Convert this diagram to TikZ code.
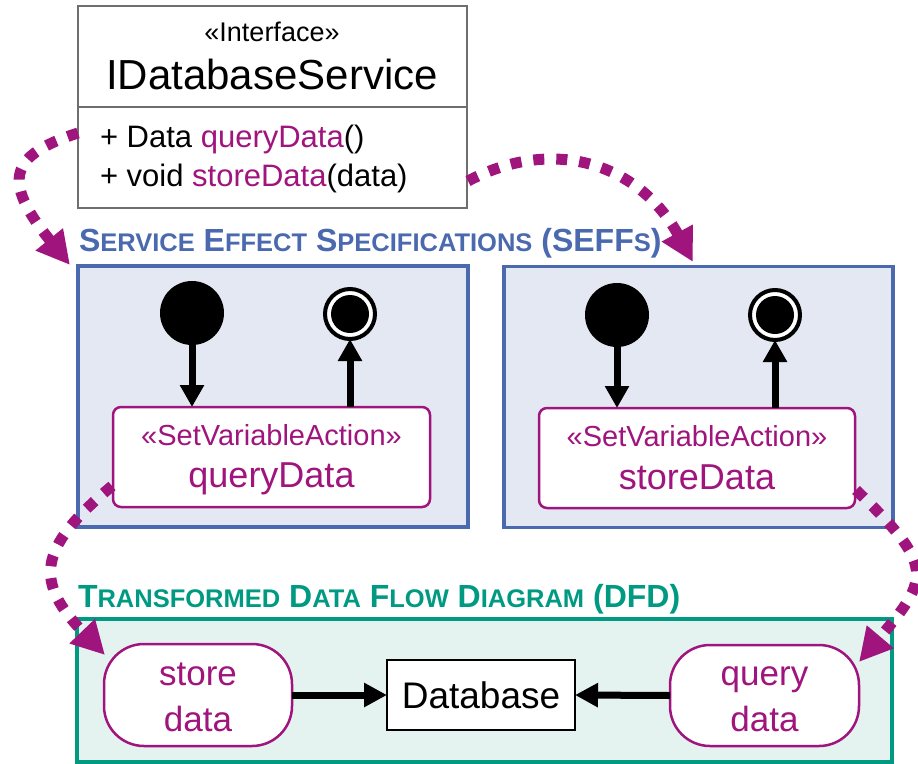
\documentclass[tikz,border=0pt]{standalone}
\usepackage{fontspec}
\setmainfont{Liberation Sans}
\usetikzlibrary{arrows.meta}

\definecolor{purp}{HTML}{A0147D}
\definecolor{seffblue}{HTML}{4A69AE}
\definecolor{sefffill}{HTML}{E4E8F3}
\definecolor{dfdteal}{HTML}{009A82}
\definecolor{dfdfill}{HTML}{E4F2F0}
\definecolor{clsgray}{HTML}{6E6E6E}

% font helpers (sizes in pt, one pt per pixel of the drawing)
\newcommand\fs[1]{\fontsize{#1}{#1}\selectfont}
% hand-made small caps for the section titles
\newcommand\seffsc[1]{{\fs{25.5}#1}}
\newcommand\dfdsc[1]{{\fs{25.5}#1}}

\begin{document}
\begin{tikzpicture}[x=1pt,y=-1pt,
  every node/.style={inner sep=0pt,outer sep=0pt},
  txt/.style={anchor=base},
  clsbox/.style={draw=clsgray,line width=2.5pt,fill=white},
  seffbox/.style={draw=seffblue,line width=3.5pt,fill=sefffill},
  actbox/.style={draw=purp,line width=2.5pt,fill=white,rounded corners=8pt},
  initnode/.style={circle,fill=black,minimum size=64pt},
  finring/.style={circle,draw=black,line width=4pt,fill=white,minimum size=50pt},
  fincore/.style={circle,fill=black,minimum size=38pt},
  ctrl/.style={line width=7pt,-{Triangle[length=22pt,width=23pt]}},
  dfdbox/.style={draw=dfdteal,line width=3.5pt,fill=dfdfill},
  procbox/.style={draw=purp,line width=2.5pt,fill=white,rounded corners=40pt},
  storebox/.style={draw=black,line width=2.5pt,fill=white},
  dflow/.style={line width=7pt,-{Triangle[length=23pt,width=23pt]}},
  trace/.style={draw=purp,line width=11pt,dash pattern=on 11pt off 12pt,
    -{Triangle[length=33pt,width=33pt]},fill=none},
]
\useasboundingbox (0,0) rectangle (918,763);
\clip (0,0) rectangle (918,763);

% ---------------- interface class ----------------
\node[clsbox,minimum width=389pt,minimum height=202pt] (cls) at (272.5,107) {};
\draw[clsgray,line width=2.5pt] (cls.west |- 0,107) -- (cls.east |- 0,107);
\node[txt,font=\fs{27}] (stereo) at (272,41) {«Interface»};
\node[txt,font=\fs{42}] (iname) at (272,89) {IDatabaseService};
\node[anchor=base west,font=\fs{31}] (m1) at (100,147) {+ Data \textcolor{purp}{queryData}()};
\node[anchor=base west,font=\fs{31}] (m2) at (100,186) {+ void \textcolor{purp}{storeData}(data)};
\coordinate (clsL) at (78,133);
\coordinate (clsR) at (468,181);

% ---------------- SEFFs ----------------
\node[anchor=base west,text=seffblue,font=\fs{32}\bfseries] (sefftitle) at (79,251)
  {S\seffsc{ERVICE} E\seffsc{FFECT} S\seffsc{PECIFICATIONS} (SEFF\seffsc{S})};

\node[seffbox,minimum width=390pt,minimum height=261pt] (seffL) at (273,396.5) {};
\node[seffbox,minimum width=389pt,minimum height=261pt] (seffR) at (698.5,397) {};

% queryData SEFF
\node[actbox,minimum width=317pt,minimum height=100pt] (actL) at (271.5,457) {};
\node[txt,text=purp,font=\fs{29}] (actLs) at (271.5,445) {«SetVariableAction»};
\node[txt,text=purp,font=\fs{36}] (actLn) at (271.5,487) {queryData};
\node[initnode] (initL) at (192,313) {};
\node[finring] (finL) at (350,314) {};
\node[fincore] (finLc) at (350,314) {};
\draw[ctrl] (initL.south) -- (initL |- actL.north);
\draw[ctrl] (finL |- actL.north) -- (finL.south);

% storeData SEFF
\node[actbox,minimum width=316pt,minimum height=100pt] (actR) at (697,458) {};
\node[txt,text=purp,font=\fs{29}] (actRs) at (697,446) {«SetVariableAction»};
\node[txt,text=purp,font=\fs{36}] (actRn) at (697,489) {storeData};
\node[initnode] (initR) at (617,315) {};
\node[finring] (finR) at (775,315) {};
\node[fincore] (finRc) at (775,315) {};
\draw[ctrl] (initR.south) -- (initR |- actR.north);
\draw[ctrl] (finR |- actR.north) -- (finR.south);

% ---------------- transformed DFD ----------------
\node[anchor=base west,text=dfdteal,font=\fs{32}\bfseries] (dfdtitle) at (78,607)
  {T\dfdsc{RANSFORMED} D\dfdsc{ATA} F\dfdsc{LOW} D\dfdsc{IAGRAM} (DFD)};
\node[dfdbox,minimum width=815pt,minimum height=143pt] (dfd) at (484.5,690.5) {};

\node[procbox,minimum width=188pt,minimum height=102pt] (store) at (198,695) {};
\node[txt,text=purp,font=\fs{35}] (storeA) at (198,685) {store};
\node[txt,text=purp,font=\fs{35}] (storeB) at (198,731) {data};

\node[procbox,minimum width=189pt,minimum height=101pt] (query) at (764.5,695.5) {};
\node[txt,text=purp,font=\fs{35}] (queryA) at (764.5,685) {query};
\node[txt,text=purp,font=\fs{35}] (queryB) at (764.5,731) {data};

\node[storebox,minimum width=188pt,minimum height=70pt,font=\fs{37}] (db) at (481,695) {Database};

\draw[dflow] (store.east) -- (db.west);
\draw[dflow] (query.west) -- (db.east);

% ---------------- trace links ----------------
\coordinate (tipA) at (70,265);
\coordinate (tipB) at (693,262);
\coordinate (srcC) at (112,486);
\coordinate (tipC) at (105,655);
\coordinate (srcD) at (856,490);
\coordinate (tipD) at (859,662);
\draw[trace] (clsL) .. controls (10,155) and (1,180) .. (tipA);
\draw[trace] (clsR) .. controls (555,135) and (640,165) .. (tipB);
\draw[trace] (srcC) .. controls (35,550) and (36,583) .. (tipC);
\draw[trace] (srcD) .. controls (935,566) and (930,578) .. (tipD);
\end{tikzpicture}
\end{document}
